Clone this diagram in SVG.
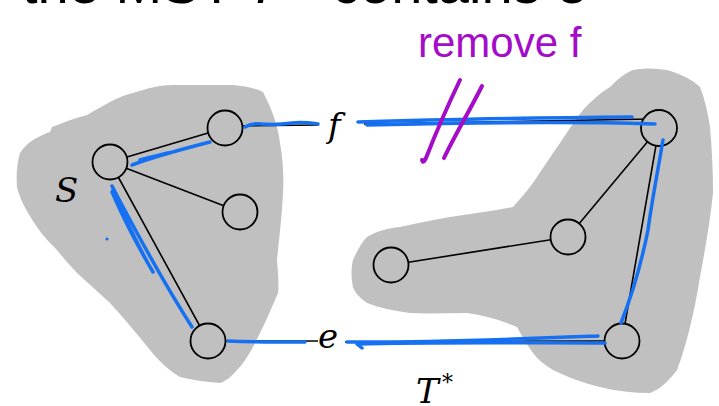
<svg xmlns="http://www.w3.org/2000/svg" width="719" height="406" viewBox="0 0 719 406">
<style>
.blob{fill:#c0c0c0;stroke:none}
.edge{stroke:#000;stroke-width:1.6;fill:none}
.node{fill:#c0c0c0;stroke:#000;stroke-width:1.8}
.blue{stroke:#1670f2;stroke-width:3.5;fill:none;stroke-linecap:round;stroke-linejoin:round}
.purple{stroke:#a40cc8;stroke-width:4;fill:none;stroke-linecap:round;stroke-linejoin:round}
.math{font-family:"DejaVu Serif","Liberation Serif",serif;font-style:italic;fill:#000}
</style>
<rect width="719" height="406" fill="#fff"/>
<text x="22" y="3" font-family="Liberation Sans, Arial, sans-serif" font-size="56" fill="#000">the MST <tspan x="246" font-style="italic">T</tspan><tspan font-size="34" dy="-22">*</tspan><tspan x="332" dy="22">contains e</tspan></text>
<g id="region-S">
<path class="blob" d="M52,127 C65,122 75,118 87,115 C103,106 118,96 133,93 C148,88 160,85 173,85 L233,85 C245,86 255,88 263,92 C272,110 278,125 280,143 C283,160 284,177 283,193 C282,215 279,240 277,260 C278,272 279,283 278,293 C270,312 262,330 253,347 C248,356 243,364 237,370 C231,377 226,381 220,383 C205,382 192,380 180,377 C168,370 158,360 150,350 C137,334 124,318 110,303 C98,292 87,282 77,273 C70,265 63,258 57,250 C50,243 43,236 37,227 C28,214 20,200 17,187 C16,175 17,163 20,153 C24,147 28,143 33,140 C40,136 46,133 50,132 Z"/>
</g>
<g id="region-T">
<path class="blob" d="M633,70 C645,68 656,68 667,70 C680,74 692,79 700,87 C705,100 708,113 710,127 C712,150 713,172 713,193 C710,222 705,250 700,277 C697,295 694,311 690,327 C686,343 682,357 677,370 C668,382 660,389 650,393 C633,393 616,391 600,387 C584,383 567,377 553,370 C545,365 538,360 533,353 C527,345 522,336 517,327 C500,320 484,315 467,313 C448,313 429,314 410,313 C395,311 380,308 367,303 C360,298 355,293 353,287 C351,278 351,268 353,260 C357,251 361,243 367,237 C377,231 388,228 400,227 C417,223 433,220 450,217 C471,214 492,211 513,207 C520,199 527,191 533,183 C542,169 551,156 560,143 C568,131 575,120 583,110 C591,101 600,93 610,87 C617,80 625,73 633,70 Z"/>
</g>
<g id="connectors">
<line class="edge" x1="110" y1="162" x2="225" y2="128"/>
<line class="edge" x1="110" y1="162" x2="240" y2="212"/>
<line class="edge" x1="110" y1="162" x2="208" y2="341"/>
<line class="edge" x1="240" y1="126" x2="318" y2="125"/>
<line class="edge" x1="364" y1="124" x2="650" y2="119"/>
<line class="edge" x1="659" y1="128" x2="568" y2="237"/>
<line class="edge" x1="568" y1="237" x2="391" y2="265"/>
<line class="edge" x1="659" y1="128" x2="622" y2="341"/>
<line class="edge" x1="225" y1="341" x2="318" y2="341"/>
<line class="edge" x1="345" y1="342" x2="605" y2="341"/>
</g>
<g id="node-s1"><circle class="node" cx="110" cy="162" r="17.5"/></g>
<g id="node-s2"><circle class="node" cx="225" cy="128" r="17.5"/></g>
<g id="node-s3"><circle class="node" cx="240" cy="212" r="17.5"/></g>
<g id="node-s4"><circle class="node" cx="208" cy="341" r="17.5"/></g>
<g id="node-t1"><circle class="node" cx="659" cy="128" r="18"/></g>
<g id="node-t2"><circle class="node" cx="568" cy="237" r="17.5"/></g>
<g id="node-t3"><circle class="node" cx="391" cy="265" r="17.5"/></g>
<g id="node-t4"><circle class="node" cx="622" cy="341" r="17.5"/></g>
<g id="labels">
<text class="math" x="55" y="202" font-size="34">S</text>
<text class="math" x="328" y="137" font-size="34">f</text>
<text class="math" x="318" y="348" font-size="34">e</text>
<text class="math" x="416" y="403" font-size="34">T</text>
<text class="math" x="442" y="390" font-size="22" font-style="normal">*</text>
</g>
<g id="blue-annotations">
<path class="blue" d="M132,165 C150,158 175,151 210,142"/>
<path class="blue" d="M140,160 C150,157 160,155 168,153" stroke-width="5"/>
<path class="blue" d="M245,127 C250,124 255,123 262,124 C275,125 285,124 292,123 C300,122 310,123 318,124"/>
<path class="blue" d="M358,122 C420,120 520,118 632,117"/>
<path class="blue" d="M655,124 C560,121 450,123 367,125"/>
<path class="blue" d="M663,140 C658,170 652,200 648,230 C640,270 630,300 621,323"/>
<path class="blue" d="M112,186 C135,230 165,285 192,327"/>
<path class="blue" d="M113,190 C128,225 143,255 153,272 C140,250 122,215 112,192" stroke-width="2.5"/>
<path class="blue" d="M228,341 C255,342 280,342 305,342"/>
<path class="blue" d="M347,342 C420,343 520,339 598,336"/>
<path class="blue" d="M605,343 C520,343 430,342 357,344 L362,348"/>
<circle cx="107" cy="239" r="1.6" fill="#1670f2"/>
</g>
<g id="purple-annotations">
<text x="418" y="57" font-family="Liberation Sans, Arial, sans-serif" font-size="42" fill="#a40cc8">remove f</text>
<path class="purple" d="M460,80 C448,105 435,135 426,158 C424,162 423,163 422,160"/>
<path class="purple" d="M482,86 C470,110 455,135 444,158"/>
</g>
</svg>
